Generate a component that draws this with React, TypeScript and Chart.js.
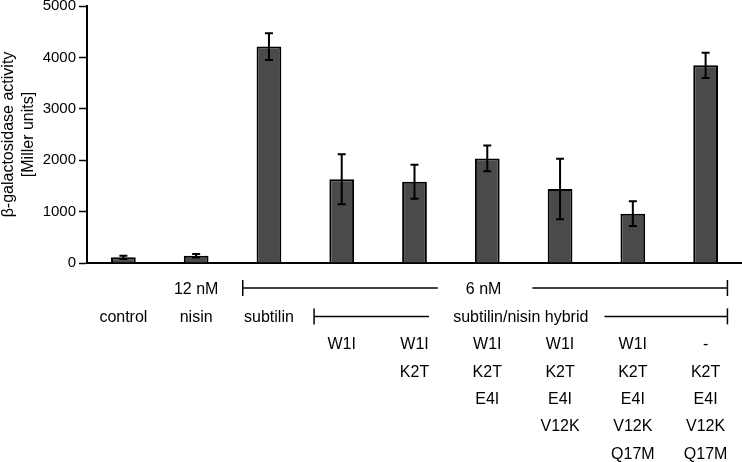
import React, { useEffect, useRef } from "react";
import { Chart, registerables } from "chart.js";

Chart.register(...registerables);

const categories = ["control", "nisin", "subtilin", "W1I", "W1I K2T", "W1I K2T E4I", "W1I K2T E4I V12K", "W1I K2T E4I V12K Q17M", "- K2T E4I V12K Q17M"];
const activity = [110, 140, 4210, 1630, 1580, 2035, 1440, 960, 3845];
const errors = [30, 35, 260, 485, 330, 250, 590, 240, 245];
const yTicks = [0, 1000, 2000, 3000, 4000, 5000];
const concentrationLabels = ["12 nM", "6 nM"];
const peptideLabels = ["control", "nisin", "subtilin", "subtilin/nisin hybrid"];
const mutations: string[][] = [
  [],
  [],
  [],
  ["W1I"],
  ["W1I", "K2T"],
  ["W1I", "K2T", "E4I"],
  ["W1I", "K2T", "E4I", "V12K"],
  ["W1I", "K2T", "E4I", "V12K", "Q17M"],
  ["-", "K2T", "E4I", "V12K", "Q17M"],
];

const FONT = '"Liberation Sans", Arial, sans-serif';

const errorBarPlugin = {
  id: "errorBars",
  afterDatasetsDraw(chart: any) {
    const ctx = chart.ctx;
    const meta = chart.getDatasetMeta(0);
    const y = chart.scales.y;
    ctx.save();
    ctx.strokeStyle = "#000";
    ctx.lineWidth = 2;
    meta.data.forEach((bar: any, i: number) => {
      const x = bar.x;
      const top = y.getPixelForValue(activity[i] + errors[i]);
      const bot = y.getPixelForValue(activity[i] - errors[i]);
      ctx.beginPath();
      ctx.moveTo(x, top);
      ctx.lineTo(x, bot);
      ctx.moveTo(x - 4, top);
      ctx.lineTo(x + 4, top);
      ctx.moveTo(x - 4, bot);
      ctx.lineTo(x + 4, bot);
      ctx.stroke();
    });
    ctx.restore();
  },
};

const annotationPlugin = {
  id: "annotations",
  afterDraw(chart: any) {
    const ctx = chart.ctx;
    const xs = chart.scales.x;
    const p0 = xs.getPixelForValue(0);
    const cw = xs.getPixelForValue(1) - p0;
    const px = (f: number) => p0 + f * cw;
    const base = chart.chartArea.bottom;
    const rowY = (k: number) => base + 27 + k * 27.4;
    ctx.save();
    ctx.fillStyle = "#000";
    ctx.strokeStyle = "#000";
    ctx.lineWidth = 1.5;
    ctx.font = `16px ${FONT}`;
    ctx.textAlign = "center";
    ctx.textBaseline = "middle";

    const seg = (a: number, b: number, yy: number) => {
      ctx.beginPath();
      ctx.moveTo(px(a), yy);
      ctx.lineTo(px(b), yy);
      ctx.stroke();
    };
    const tick = (a: number, yy: number) => {
      ctx.beginPath();
      ctx.moveTo(px(a), yy - 8);
      ctx.lineTo(px(a), yy + 8);
      ctx.stroke();
    };

    // row 1: concentrations
    const y1 = rowY(0);
    ctx.fillText(concentrationLabels[0], px(1), y1);
    ctx.fillText(concentrationLabels[1], px(4.95), y1);
    seg(1.64, 4.32, y1 - 2);
    seg(5.62, 8.3, y1 - 2);
    tick(1.64, y1 - 2);
    tick(8.3, y1 - 2);

    // row 2: peptides
    const y2 = rowY(1);
    ctx.fillText(peptideLabels[0], px(0), y2);
    ctx.fillText(peptideLabels[1], px(1), y2);
    ctx.fillText(peptideLabels[2], px(2), y2);
    ctx.fillText(peptideLabels[3], px(5.46), y2);
    seg(2.62, 4.2, y2 - 1);
    seg(6.61, 8.3, y2 - 1);
    tick(2.62, y2 - 1);
    tick(8.3, y2 - 1);

    // mutation rows
    mutations.forEach((list, i) => {
      list.forEach((m, k) => {
        ctx.fillText(m, px(i), rowY(2 + k));
      });
    });
    ctx.restore();
  },
};

export default function App() {
  const ref = useRef<HTMLCanvasElement | null>(null);
  useEffect(() => {
    if (!ref.current) return;
    const chart = new Chart(ref.current, {
      type: "bar",
      data: {
        labels: categories,
        datasets: [
          {
            data: activity,
            backgroundColor: "#4a4a4a",
            borderColor: "#000",
            borderWidth: 2,
            barPercentage: 0.34,
            categoryPercentage: 1,
          },
        ],
      },
      options: {
        animation: false,
        responsive: false,
        devicePixelRatio: 1,
        layout: { padding: { top: 0, right: 0, bottom: 199, left: 0 } },
        plugins: { legend: { display: false }, tooltip: { enabled: false } },
        scales: {
          x: {
            grid: { display: false },
            ticks: { display: false },
            border: { display: true, color: "#000", width: 2 },
            afterFit: (s: any) => {
              s.height = 0;
            },
          },
          y: {
            min: 0,
            max: 5000,
            afterBuildTicks: (s: any) => {
              s.ticks = yTicks.map((v) => ({ value: v }));
            },
            ticks: {
              color: "#000",
              padding: 3,
              font: { family: FONT, size: 15 },
              callback: (v: any) => String(v),
            },
            grid: {
              drawOnChartArea: false,
              drawTicks: true,
              tickLength: 8,
              color: "#000",
              tickWidth: 1.5,
            },
            border: { display: true, color: "#000", width: 2 },
            title: {
              display: true,
              text: ["β-galactosidase activity", "[Miller units]"],
              color: "#000",
              font: { family: FONT, size: 16, lineHeight: 1.25 },
              padding: { top: -1, bottom: 0 },
            },
            afterFit: (s: any) => {
              s.width = 87;
              s.paddingTop = 6;
              s.paddingBottom = 0;
            },
          },
        },
      },
      plugins: [errorBarPlugin, annotationPlugin],
    });
    return () => chart.destroy();
  }, []);
  return (
    <div style={{ position: "fixed", left: 0, top: 0, width: 742, height: 462, background: "#fff" }}>
      <canvas ref={ref} width={742} height={462} />
    </div>
  );
}
